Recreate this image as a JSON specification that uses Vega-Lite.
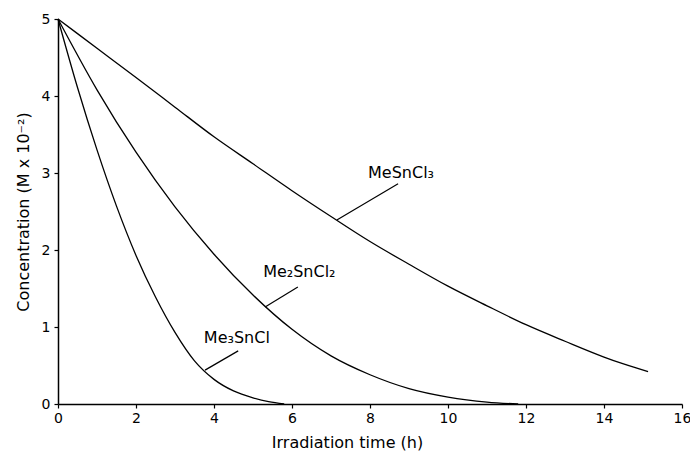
{
  "$schema": "https://vega.github.io/schema/vega-lite/v6.json",
  "autosize": "none",
  "width": 624,
  "height": 385,
  "padding": {"left": 58, "top": 19, "right": 8, "bottom": 53},
  "background": "white",
  "config": {
    "view": {"stroke": null},
    "font": "DejaVu Sans",
    "axis": {"grid": false, "domainColor": "black", "tickColor": "black", "labelColor": "black", "titleColor": "black", "labelFont": "DejaVu Sans", "titleFont": "DejaVu Sans", "titleFontWeight": "normal", "labelFontSize": 14, "titleFontSize": 16, "domainWidth": 1.5, "tickWidth": 1.2}
  },
  "datasets": {
    "curves": [
      {"s": "Me3SnCl", "x": 0, "y": 5}, {"s": "Me3SnCl", "x": 0.5, "y": 4.11}, {"s": "Me3SnCl", "x": 1.0, "y": 3.3}, {"s": "Me3SnCl", "x": 1.5, "y": 2.57}, {"s": "Me3SnCl", "x": 2.0, "y": 1.93}, {"s": "Me3SnCl", "x": 2.5, "y": 1.39}, {"s": "Me3SnCl", "x": 3.0, "y": 0.93}, {"s": "Me3SnCl", "x": 3.5, "y": 0.56}, {"s": "Me3SnCl", "x": 4.0, "y": 0.32}, {"s": "Me3SnCl", "x": 4.5, "y": 0.17}, {"s": "Me3SnCl", "x": 5.0, "y": 0.08}, {"s": "Me3SnCl", "x": 5.4, "y": 0.03}, {"s": "Me3SnCl", "x": 5.8, "y": 0},
      {"s": "Me2SnCl2", "x": 0, "y": 5}, {"s": "Me2SnCl2", "x": 1, "y": 4.08}, {"s": "Me2SnCl2", "x": 2, "y": 3.27}, {"s": "Me2SnCl2", "x": 3, "y": 2.56}, {"s": "Me2SnCl2", "x": 4, "y": 1.945}, {"s": "Me2SnCl2", "x": 5, "y": 1.415}, {"s": "Me2SnCl2", "x": 6, "y": 0.97}, {"s": "Me2SnCl2", "x": 7, "y": 0.625}, {"s": "Me2SnCl2", "x": 8, "y": 0.38}, {"s": "Me2SnCl2", "x": 9, "y": 0.2}, {"s": "Me2SnCl2", "x": 10, "y": 0.09}, {"s": "Me2SnCl2", "x": 11, "y": 0.025}, {"s": "Me2SnCl2", "x": 11.8, "y": 0},
      {"s": "MeSnCl3", "x": 0, "y": 5}, {"s": "MeSnCl3", "x": 1, "y": 4.62}, {"s": "MeSnCl3", "x": 2, "y": 4.24}, {"s": "MeSnCl3", "x": 3, "y": 3.855}, {"s": "MeSnCl3", "x": 4, "y": 3.47}, {"s": "MeSnCl3", "x": 5, "y": 3.12}, {"s": "MeSnCl3", "x": 6, "y": 2.77}, {"s": "MeSnCl3", "x": 7, "y": 2.435}, {"s": "MeSnCl3", "x": 8, "y": 2.11}, {"s": "MeSnCl3", "x": 9, "y": 1.815}, {"s": "MeSnCl3", "x": 10, "y": 1.53}, {"s": "MeSnCl3", "x": 11, "y": 1.275}, {"s": "MeSnCl3", "x": 12, "y": 1.03}, {"s": "MeSnCl3", "x": 13, "y": 0.815}, {"s": "MeSnCl3", "x": 14, "y": 0.61}, {"s": "MeSnCl3", "x": 14.5, "y": 0.52}, {"s": "MeSnCl3", "x": 15.13, "y": 0.42}
    ],
    "labels": [
      {"label": "MeSnCl₃", "tx": 7.95, "ty": 3.0, "x1": 8.72, "y1": 2.86, "x2": 7.15, "y2": 2.39},
      {"label": "Me₂SnCl₂", "tx": 5.26, "ty": 1.71, "x1": 6.15, "y1": 1.52, "x2": 5.31, "y2": 1.26},
      {"label": "Me₃SnCl", "tx": 3.74, "ty": 0.86, "x1": 4.62, "y1": 0.69, "x2": 3.77, "y2": 0.44}
    ]
  },
  "layer": [
    {
      "data": {"name": "curves"},
      "mark": {"type": "line", "interpolate": "monotone", "color": "black", "strokeWidth": 1.3},
      "encoding": {
        "x": {"field": "x", "type": "quantitative", "scale": {"domain": [0, 16], "nice": false},
          "axis": {"title": "Irradiation time (h)", "values": [0,1,2,3,4,5,6,7,8,9,10,11,12,13,14,15,16], "labelExpr": "datum.value % 2 == 0 ? format(datum.value, 'd') : ''", "tickSize": 4, "labelPadding": 3, "titlePadding": 9, "titleX": 289, "titleAnchor": null, "labelFlush": false}},
        "y": {"field": "y", "type": "quantitative", "scale": {"domain": [0, 5], "nice": false},
          "axis": {"title": "Concentration (M x 10⁻²)", "values": [0,0.5,1,1.5,2,2.5,3,3.5,4,4.5,5], "labelExpr": "datum.value % 1 == 0 ? format(datum.value, 'd') : ''", "tickSize": 4, "labelPadding": 4, "titlePadding": 10, "labelFlush": false}},
        "detail": {"field": "s", "type": "nominal"}
      }
    },
    {
      "data": {"name": "labels"},
      "mark": {"type": "rule", "color": "black", "strokeWidth": 1.2},
      "encoding": {
        "x": {"field": "x1", "type": "quantitative"},
        "y": {"field": "y1", "type": "quantitative"},
        "x2": {"field": "x2"},
        "y2": {"field": "y2"}
      }
    },
    {
      "data": {"name": "labels"},
      "mark": {"type": "text", "align": "left", "baseline": "middle", "fontSize": 16, "color": "black", "font": "DejaVu Sans"},
      "encoding": {
        "x": {"field": "tx", "type": "quantitative"},
        "y": {"field": "ty", "type": "quantitative"},
        "text": {"field": "label"}
      }
    }
  ]
}
